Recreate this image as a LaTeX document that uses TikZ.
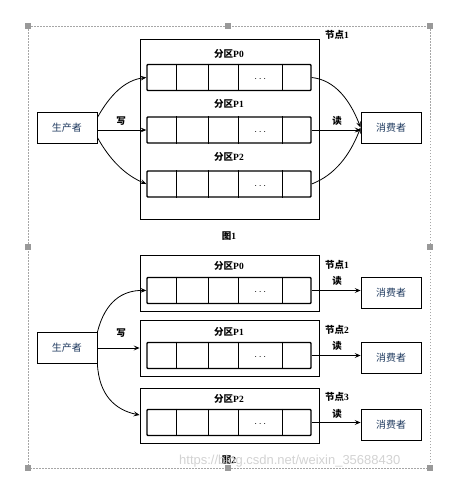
\documentclass[tikz,border=0pt]{standalone}
\usepackage{fontspec}
\setmainfont{Liberation Serif}
\newfontfamily\cjk{Noto Sans CJK SC}
\newfontfamily\wmfont{Liberation Sans}
\usetikzlibrary{arrows.meta,calc}
\definecolor{txtblue}{HTML}{1F3A5F}
\newcommand\prow[3]{%
  \node[rowbox] (#1) at (#2,#3) {};
  \foreach \dx in {30,62,92,136}
    \draw[rowline] ($(#1.north west)+(\dx,0)$) -- ($(#1.south west)+(\dx,0)$);
  \node[font=\fontsize{10}{10}\selectfont,inner sep=0pt] at ($(#1.west)+(114,2)$) {$\cdots$};%
}
\begin{document}
\begin{tikzpicture}[x=1pt,y=-1pt,
  frame/.style={draw=gray!70,line width=0.5pt,dash pattern=on 1.5pt off 1.5pt},
  handle/.style={fill=gray!80,draw=none,minimum size=5.5pt,inner sep=0pt},
  nodebox/.style={draw,line width=0.8pt,minimum width=179pt,inner sep=0pt},
  rowbox/.style={draw,line width=1.4pt,rounded corners=0.8pt,minimum width=164pt,minimum height=26pt,inner sep=0pt},
  rowline/.style={line width=1.3pt},
  actor/.style={draw,line width=0.8pt,minimum width=60pt,minimum height=31pt,inner sep=0pt,font=\cjk\fontsize{10}{12}\selectfont,text=txtblue},
  lbl/.style={font=\bfseries\fontsize{9.5}{11}\selectfont,inner sep=0pt},
  arr/.style={line width=0.8pt,-{Stealth[length=6pt,width=5pt,inset=2.5pt]}}]
\useasboundingbox (0,0) rectangle (459,480);
% selection frame
\draw[frame] (28,26) rectangle (430,468);
\foreach \hx/\hy in {28/26,228/26,430/26,28/247,430/247,28/468,228/468,430/468}
  \node[handle] at (\hx,\hy) {};

% ---------- Figure 1 ----------
\node[nodebox,minimum height=180pt] (n1) at (229.5,129) {};
\node[lbl] (n1l) at (337,35) {{\cjk\bfseries 节点}1};
\node[lbl] (l0) at (229,54) {{\cjk\bfseries 分区}P0};
\node[lbl] (l1) at (229,104) {{\cjk\bfseries 分区}P1};
\node[lbl] (l2) at (229,157) {{\cjk\bfseries 分区}P2};
\prow{a0}{229}{77.5}
\prow{a1}{229}{130}
\prow{a2}{229}{184}
\node[actor] (p) at (67,127.5) {生产者};
\node[actor] (c) at (391,127.5) {消费者};
\node[lbl] (w) at (121,121) {\cjk\bfseries 写};
\node[lbl] (r) at (337,121) {\cjk\bfseries 读};
\draw[arr] ($(p.east)+(0,-10)$) .. controls (110,95) and (125,80) .. (a0.west);
\draw[arr] (p.east |- a1.west) -- (a1.west);
\draw[arr] ($(p.east)+(0,10)$) .. controls (110,160) and (125,175) .. (a2.west);
\draw[arr] (a0.east) .. controls (335,80) and (350,100) .. (c.west);
\draw[arr] (a1.east) -- (a1.east -| c.west);
\draw[arr] (a2.east) .. controls (335,175) and (350,155) .. (c.west);
\node[lbl] (f1) at (229,236) {{\cjk\bfseries 图}1};

% ---------- Figure 2 ----------
\node[nodebox,minimum height=56pt] (b0) at (229.5,283) {};
\node[nodebox,minimum height=56pt] (b1) at (229.5,348) {};
\node[nodebox,minimum height=55pt] (b2) at (229.5,415.5) {};
\node[lbl] (m0) at (229,266) {{\cjk\bfseries 分区}P0};
\node[lbl] (m1) at (229,332) {{\cjk\bfseries 分区}P1};
\node[lbl] (m2) at (229,399) {{\cjk\bfseries 分区}P2};
\prow{q0}{229}{290.5}
\prow{q1}{229}{355.5}
\prow{q2}{229}{422.5}
\node[lbl] (k1) at (337,265) {{\cjk\bfseries 节点}1};
\node[lbl] (k2) at (337,330) {{\cjk\bfseries 节点}2};
\node[lbl] (k3) at (337,397) {{\cjk\bfseries 节点}3};
\node[lbl] (d1) at (337,281) {\cjk\bfseries 读};
\node[lbl] (d2) at (337,346) {\cjk\bfseries 读};
\node[lbl] (d3) at (337,414) {\cjk\bfseries 读};
\node[actor] (c1) at (391,292.5) {消费者};
\node[actor] (c2) at (391,357.5) {消费者};
\node[actor] (c3) at (391,425) {消费者};
\node[actor] (p2) at (67,348) {生产者};
\node[lbl] (w2) at (121,333) {\cjk\bfseries 写};
\draw[arr] (p2.north east) .. controls (105,302) and (122,290) .. (q0.west);
\draw[arr] (p2.east) -- (p2.east -| b1.west);
\draw[arr] (p2.south east) .. controls (99,395) and (115,410) .. ($(b2.west)+(0,-0.5)$);
\draw[arr] (q0.east) -- (q0.east -| c1.west);
\draw[arr] (q1.east) -- (q1.east -| c2.west);
\draw[arr] (q2.east) -- (q2.east -| c3.west);
\node[lbl] (f2) at (229,460) {{\cjk\bfseries 图}2};
\node[font=\wmfont\fontsize{13}{15}\selectfont,text=gray!35,inner sep=0pt,anchor=west] (wm) at (179,461) {https://blog.csdn.net/weixin\_35688430};
\end{tikzpicture}
\end{document}
